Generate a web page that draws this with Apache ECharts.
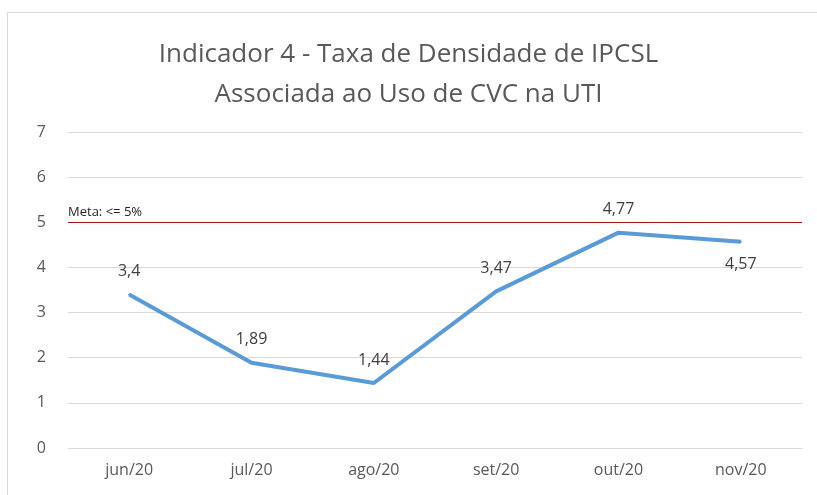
<!DOCTYPE html>
<html>
<head>
<meta charset="utf-8">
<script src="https://cdn.jsdelivr.net/npm/echarts@6/dist/echarts.min.js"></script>
<style>
  html, body { margin: 0; padding: 0; background: #fff; }
  #frame { position: absolute; left: 7px; top: 12px; width: 830px; height: 500px; border: 1px solid #d9d9d9; }
  #chart { position: absolute; left: 0; top: 0; width: 817px; height: 495px; }
</style>
</head>
<body>
<div id="frame"></div>
<div id="chart"></div>
<script>
// dados do indicador
const meses = ['jun/20', 'jul/20', 'ago/20', 'set/20', 'out/20', 'nov/20'];
const taxas = [3.4, 1.89, 1.44, 3.47, 4.77, 4.57];
const meta = 5;

const fonte = '"Open Sans", Lato, sans-serif';
let chart = echarts.init(document.getElementById('chart'));

// rótulo embaixo só no último ponto
let pontos = taxas.map((v, i) => ({
    value: v,
    label: { position: i === taxas.length - 1 ? 'bottom' : 'top' }
}));

let option = {
    animation: false,
    title: {
        text: 'Indicador 4 - Taxa de Densidade de IPCSL\nAssociada ao Uso de CVC na UTI',
        left: 'center',
        top: 30,
        textStyle: { fontFamily: fonte, fontSize: 26, fontWeight: 'normal', color: '#595959', lineHeight: 40 }
    },
    grid: { left: 68, right: 15, top: 132, bottom: 47 },
    xAxis: {
        type: 'category',
        data: meses,
        axisLine: { lineStyle: { color: '#d9d9d9' } },
        axisTick: { show: false },
        axisLabel: { fontFamily: fonte, fontSize: 16, color: '#595959', margin: 14 }
    },
    yAxis: {
        type: 'value',
        min: 0,
        max: 7,
        interval: 1,
        axisLine: { show: false },
        axisTick: { show: false },
        axisLabel: { fontFamily: fonte, fontSize: 16, color: '#595959', margin: 22 },
        splitLine: { lineStyle: { color: '#d9d9d9' } }
    },
    series: [{
        type: 'line',
        data: pontos,
        symbol: 'circle',
        symbolSize: 2,
        itemStyle: { color: '#5b9bd5' },
        lineStyle: { color: '#5b9bd5', width: 4 },
        label: {
            show: true,
            fontFamily: fonte,
            fontSize: 16,
            color: '#404040',
            distance: 14,
            formatter: p => String(p.value).replace('.', ',')
        },
        markLine: {
            silent: true,
            symbol: 'none',
            lineStyle: { color: '#a3161b', width: 1, type: 'solid' },
            label: {
                position: 'insideStartTop',
                formatter: 'Meta: <= 5%',
                fontFamily: fonte,
                fontSize: 13,
                color: '#262626',
                distance: [0, 3]
            },
            data: [{ yAxis: meta }]
        }
    }]
};

chart.setOption(option);
window.addEventListener('resize', () => chart.resize());
</script>
</body>
</html>
